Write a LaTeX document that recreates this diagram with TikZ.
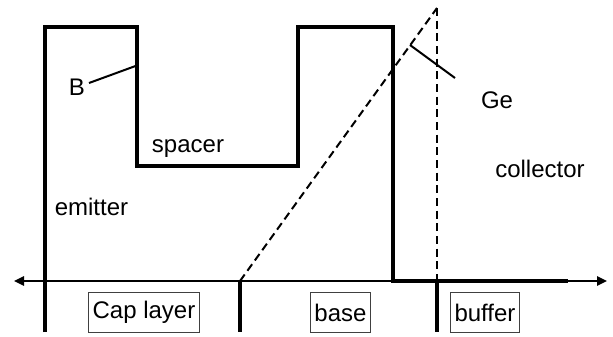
\documentclass[tikz,border=0pt]{standalone}
\usepackage{fontspec}
\setmainfont{Liberation Sans}
\usetikzlibrary{arrows.meta}
\begin{document}
\begin{tikzpicture}[x=0.75pt,y=-0.75pt,
  profile/.style={line width=3pt, line join=miter},
  tick/.style={line width=3pt},
  axisline/.style={line width=1.5pt,
    {Triangle[length=7.5pt,width=7pt]}-{Triangle[length=7.5pt,width=7pt]}},
  grade/.style={line width=1.5pt, dash pattern=on 6pt off 3.5pt},
  junction/.style={line width=2.2pt, dash pattern=on 6pt off 3.5pt},
  pointer/.style={line width=1.5pt},
  lbl/.style={font=\fontsize{18}{21}\selectfont, anchor=base, inner sep=0pt},
  layerbox/.style={draw=black!75, line width=0.75pt,
    font=\fontsize{18}{21}\selectfont, inner xsep=3pt, inner ysep=0pt,
    minimum height=30pt, anchor=center}]
\useasboundingbox (0,0) rectangle (613,336);

% axis and layer boundaries
\coordinate (axL) at (14,281);
\coordinate (axR) at (607,281);
\coordinate (t1) at (240,281);
\coordinate (t1b) at (240,332);
\coordinate (t2) at (437,281);
\coordinate (t2b) at (437,332);
\coordinate (gtop) at (437,8);

\draw[axisline] (axL) -- (axR);

% Ge grading and base/collector junction
\draw[grade] (t1) -- (gtop);
\draw[junction] (gtop) -- (t2);

% doping profile
\draw[profile] (45,332) -- (45,27) -- (137,27) -- (137,166) -- (298,166)
  -- (298,27) -- (393,27) -- (393,281) -- (568,281);

\draw[tick] (t1) -- (t1b);
\draw[tick] (t2) -- (t2b);

% labels
\node[lbl] (B) at (77,95) {B};
\coordinate (Bwall) at (135.5,66);
\draw[pointer] (89,83) -- (Bwall);

\node[lbl] (spacer) at (188,152) {spacer};
\node[lbl] (emitter) at (91.5,215) {emitter};
\node[lbl] (Ge) at (497,108) {Ge};
\node[lbl] (collector) at (540,177) {collector};
\coordinate (Geon) at (410,45);
\coordinate (Geend) at (455,78);
\draw[pointer] (Geon) -- (Geend);

\node[layerbox] (cap) at (144,312.5) {Cap layer};
\node[layerbox] (base) at (340.5,312.5) {base};
\node[layerbox] (buffer) at (485,312.5) {buffer};
\end{tikzpicture}
\end{document}
